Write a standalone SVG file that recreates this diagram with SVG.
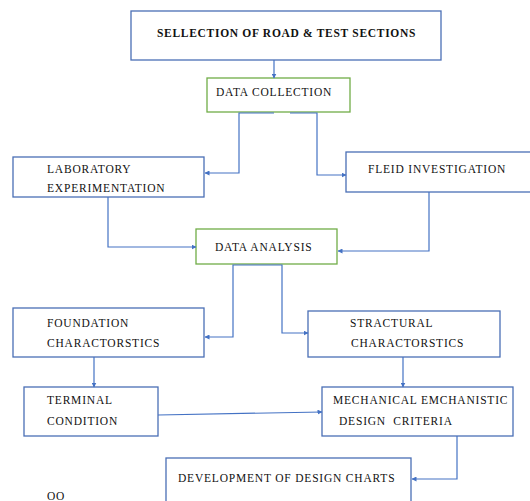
<svg xmlns="http://www.w3.org/2000/svg" width="530" height="501" viewBox="0 0 530 501">
<defs>
<marker id="ah" viewBox="0 0 10 10" refX="9" refY="5" markerWidth="5" markerHeight="5" orient="auto" markerUnits="userSpaceOnUse">
<path d="M0,0 L10,5 L0,10 z" fill="#4472C4"/>
</marker>
</defs>
<style>
.box{fill:#fff;stroke:#4A6FB5;stroke-width:1.3}
.gbox{fill:#fff;stroke:#70AD47;stroke-width:1.3}
.t{font-family:"Liberation Serif","Times New Roman",serif;font-size:11.5px;letter-spacing:0.8px;fill:#111}
.b{font-weight:bold;letter-spacing:0.7px}
.c{fill:none;stroke:#4472C4;stroke-width:1.2;marker-end:url(#ah)}
</style>
<rect width="530" height="501" fill="#fff"/>
<g id="n1"><rect class="box" x="131" y="11" width="310" height="49"/><text class="t b" x="157" y="37">SELLECTION OF ROAD &amp; TEST SECTIONS</text></g>
<g id="n2"><rect class="gbox" x="207" y="78" width="143" height="34"/><text class="t" x="216" y="96">DATA COLLECTION</text></g>
<g id="n3"><rect class="box" x="13" y="157" width="191" height="40"/><text class="t" x="47" y="173">LABORATORY</text><text class="t" x="47" y="192">EXPERIMENTATION</text></g>
<g id="n4"><rect class="box" x="346" y="152" width="190" height="40"/><text class="t" x="368" y="173">FLEID INVESTIGATION</text></g>
<g id="n5"><rect class="gbox" x="196" y="229" width="141" height="35"/><text class="t" x="215" y="251">DATA ANALYSIS</text></g>
<g id="n6"><rect class="box" x="13" y="308" width="191" height="49"/><text class="t" x="47" y="327">FOUNDATION</text><text class="t" x="47" y="347">CHARACTORSTICS</text></g>
<g id="n7"><rect class="box" x="308" y="311" width="192" height="46"/><text class="t" x="350" y="327">STRACTURAL</text><text class="t" x="351" y="347">CHARACTORSTICS</text></g>
<g id="n8"><rect class="box" x="24" y="387" width="134" height="49"/><text class="t" x="47" y="404">TERMINAL</text><text class="t" x="47" y="425">CONDITION</text></g>
<g id="n9"><rect class="box" x="322" y="387" width="191" height="49"/><text class="t" x="333" y="404">MECHANICAL EMCHANISTIC</text><text class="t" x="339" y="425" xml:space="preserve">DESIGN  CRITERIA</text></g>
<g id="n10"><rect class="box" x="166" y="458" width="245" height="55"/><text class="t" x="178" y="482">DEVELOPMENT OF DESIGN CHARTS</text></g>
<text class="t" x="47" y="500">OO</text>
<g id="connectors">
<path class="c" d="M274,60 V78"/>
<path class="c" d="M274,113 H239 V173 H205"/>
<path class="c" d="M290,113 H317 V175 H346"/>
<path class="c" d="M108,197 V247 H196"/>
<path class="c" d="M429,192 V251 H338"/>
<path class="c" d="M258,265 H233 V337 H205"/>
<path class="c" d="M258,265 H282 V333 H308"/>
<path class="c" d="M94,357 V387"/>
<path class="c" d="M403,357 V387"/>
<path class="c" d="M158,415 L322,412"/>
<path class="c" d="M457,436 V479 H412"/>
</g>
</svg>
